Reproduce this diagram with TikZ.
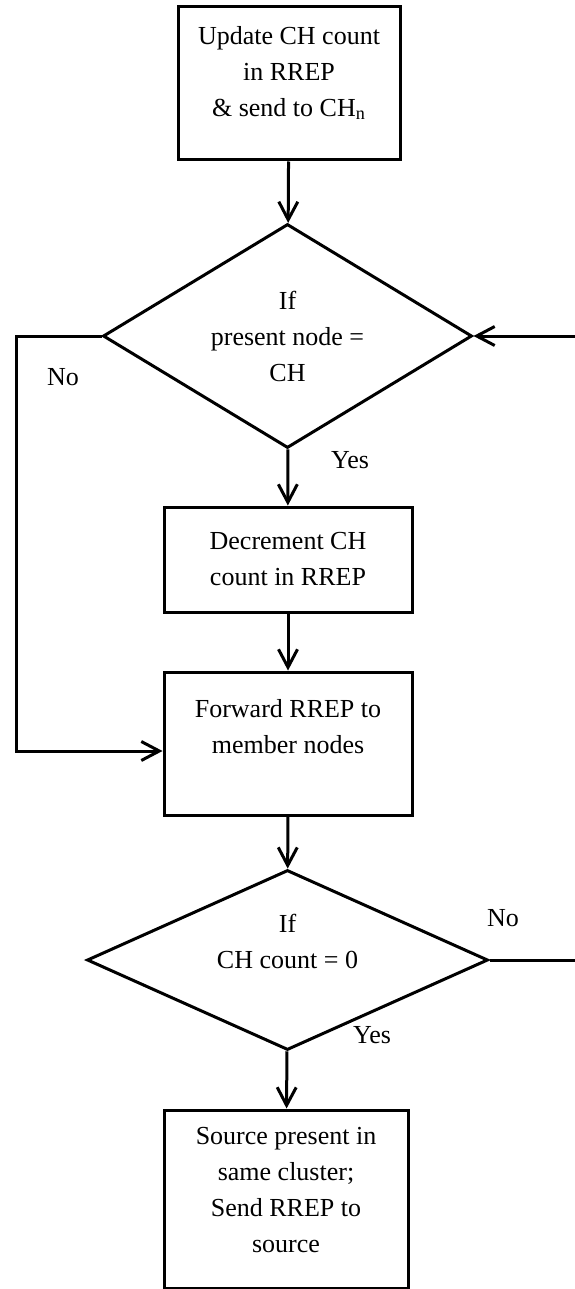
\documentclass[tikz,border=0pt]{standalone}
\usepackage{fontspec}
\setmainfont{Liberation Serif}
\usetikzlibrary{shapes.geometric,arrows.meta}

\begin{document}
\begin{tikzpicture}[x=0.5pt, y=-0.5pt, >={Straight Barb[length=9pt,width=9.5pt]},
  every node/.style={font=\fontsize{13pt}{18pt}\selectfont},
  box/.style={draw, line width=1.5pt, align=center, inner sep=0pt},
  decision/.style={draw, diamond, line width=1.5pt, align=center, inner sep=0pt},
  flow/.style={->, line width=1.5pt}]
\useasboundingbox (0,0) rectangle (574,1289);
\node[box, minimum width=111pt, minimum height=76.5pt] (update) at (289,83.5)
    {Update CH count\\ in RREP\\ \& send to CH\textsubscript{n}\\[-11pt]\strut};
\node[decision, minimum width=184.5pt, minimum height=112pt, aspect=1.65] (ifch) at (287.5,336)
    {If\\ present node =\\ CH};
\node[box, minimum width=124pt, minimum height=52.5pt] (decr) at (288,559.5)
    {Decrement CH\\ count in RREP};
\node[box, minimum width=124pt, minimum height=71.5pt] (fwd) at (288,743.5)
    {Forward RREP to\\ member nodes\\[-6pt]\strut};
\node[decision, minimum width=200.5pt, minimum height=90pt, aspect=2.23] (ifzero) at (287.5,960)
    {If\\ CH count = 0\\[-5pt]\strut};
\node[box, minimum width=122pt, minimum height=89pt] (src) at (286,1199)
    {Source present in\\ same cluster;\\ Send RREP to\\ source\\[-14pt]\strut};
\node (no1) at (63,377) {No};
\node (yes1) at (350,460) {Yes};
\node (no2) at (503,918) {No};
\node (yes2) at (372,1035) {Yes};
\coordinate (loopa) at (16,336);
\coordinate (loopb) at (16,751);
\coordinate (backin) at (578,336);
\coordinate (backout) at (578,960);
\draw[flow] (update) -- (ifch);
\draw[flow] (ifch) -- (decr);
\draw[flow] (decr) -- (fwd);
\draw[flow] (fwd) -- (ifzero);
\draw[flow] (ifzero) -- (src);
\draw[flow] (ifch.west) -- (loopa) -- (loopb) -- (loopb -| fwd.west);
\draw[flow] (backin) -- (ifch.east);
\draw[line width=1.5pt] (ifzero.east) -- (backout);
\end{tikzpicture}
\end{document}
